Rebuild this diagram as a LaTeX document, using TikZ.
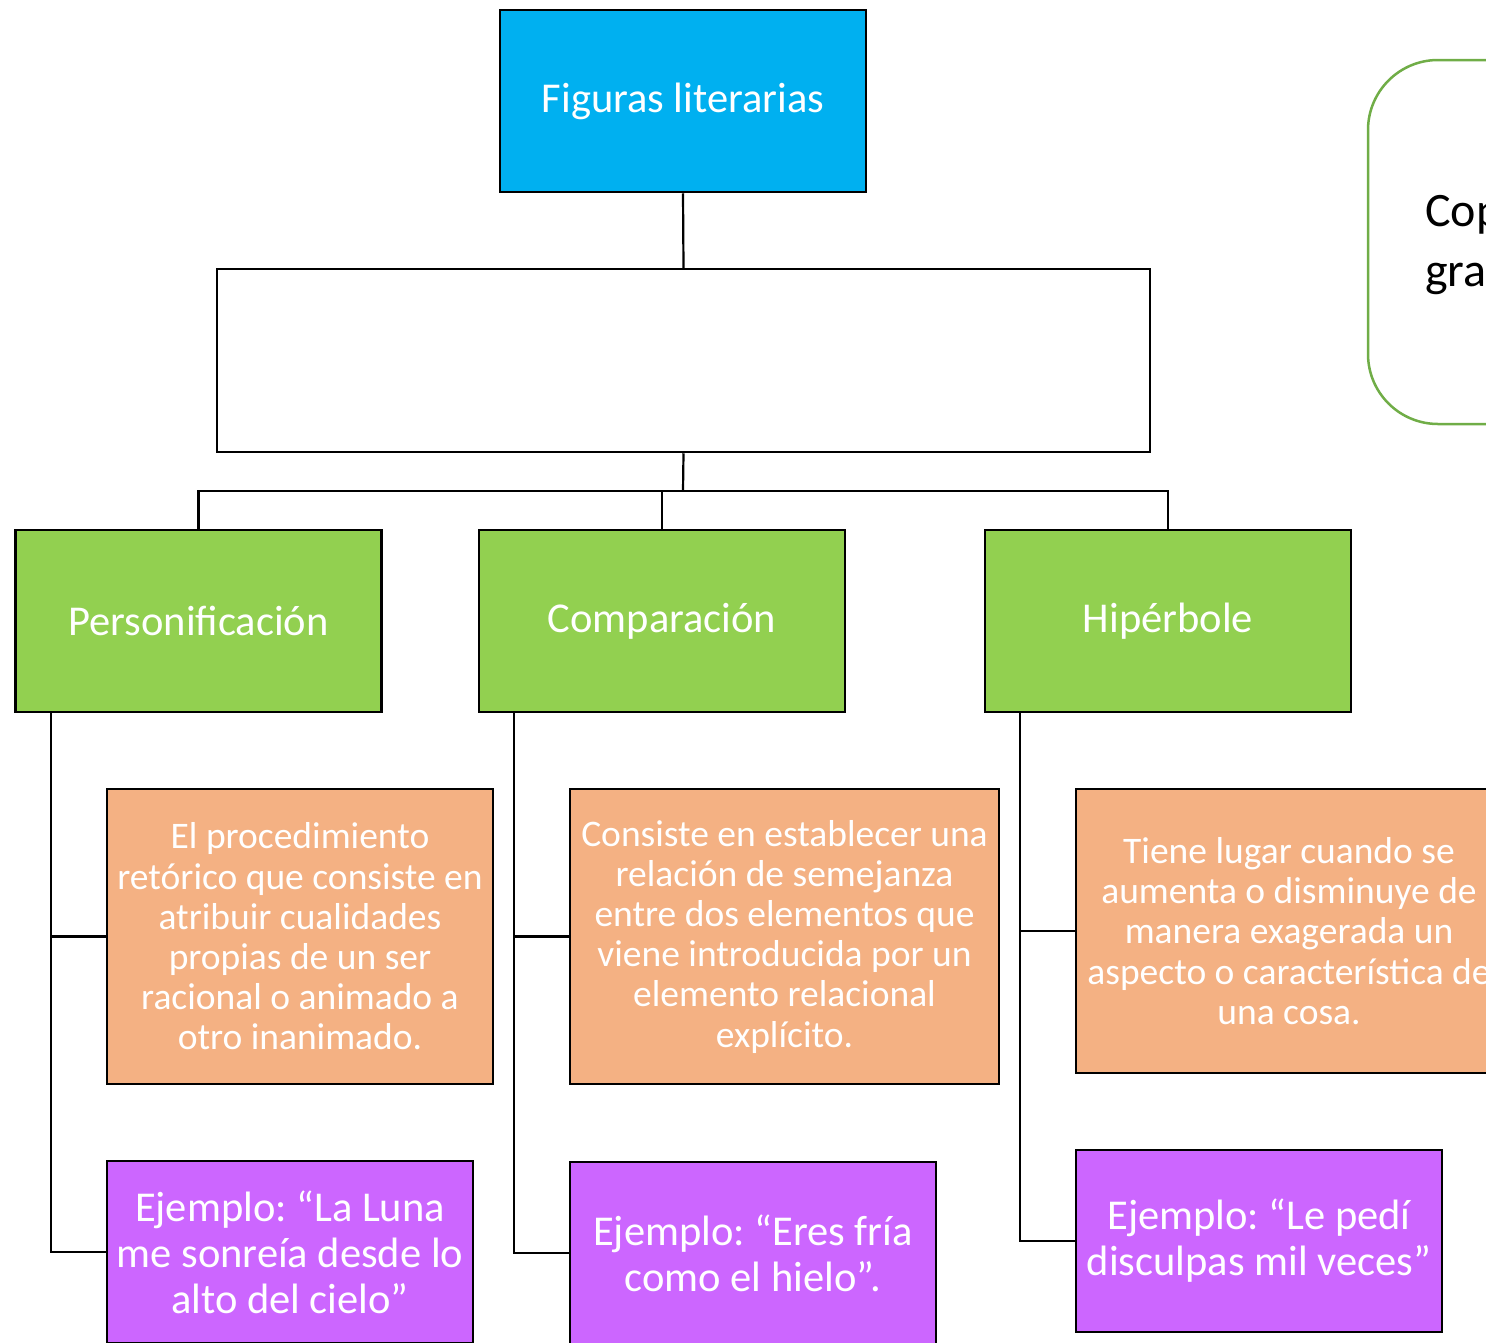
\documentclass[tikz,border=0pt]{standalone}
\usepackage{fontspec}
\setmainfont{Carlito}
\usepackage{tikz}
\frenchspacing

\definecolor{titlecyan}{HTML}{00B0F0}
\definecolor{leafgreen}{HTML}{92D050}
\definecolor{notegreen}{HTML}{70AD47}
\definecolor{defpeach}{HTML}{F4B183}
\definecolor{examplepurple}{HTML}{CC66FF}

\begin{document}
\begin{tikzpicture}[x=1pt,y=-1pt,
    box/.style={draw=black,line width=2.5pt,align=center,inner sep=0pt,text=white},
    titlebox/.style={box,fill=titlecyan,minimum width=366,minimum height=182,font=\fontsize{42.5}{48}\selectfont},
    blankbox/.style={box,fill=white,minimum width=933,minimum height=183},
    figbox/.style={box,fill=leafgreen,minimum width=366,minimum height=182,font=\fontsize{42.5}{48}\selectfont},
    defbox/.style={box,fill=defpeach,font=\fontsize{37.5}{40.2}\selectfont},
    exbox/.style={box,fill=examplepurple,minimum width=366,minimum height=182,font=\fontsize{42.5}{46}\selectfont},
    link/.style={draw=black,line width=2.2pt}]

    \useasboundingbox (0,0) rectangle (1486,1342);
    \clip (0,0) rectangle (1486,1342);

    % the side note, cut by the page edge
    \node[draw=notegreen,line width=2.5pt,fill=white,rounded corners=70pt,
      minimum width=232,minimum height=364] (note) at (1484,242) {};
    \node[anchor=west,align=left,inner sep=0pt,font=\fontsize{48}{60}\selectfont]
      (notetext) at (1425,245) {Cop\\gra};

    % top of the tree
    \node[titlebox] (title) at (683,101) {Figuras literarias};
    \node[blankbox] (blank) at (683.5,360.5) {};
    \coordinate (bus) at (683,491);

    % the three figures
    \node[figbox] (pers) at (198.5,621) {Personificación};
    \node[figbox] (comp) at (662,621) {Comparación};
    \node[figbox] (hip) at (1168,621) {Hipérbole};

    % definitions
    \node[defbox,minimum width=386,minimum height=295] (persdef) at (300,936.5)
      {El procedimiento\\retórico que consiste en\\atribuir cualidades\\propias de un ser\\racional o animado a\\otro inanimado.};
    \node[defbox,minimum width=429,minimum height=295] (compdef) at (784.5,936.5)
      {Consiste en establecer una\\relación de semejanza\\entre dos elementos que\\viene introducida por un\\elemento relacional\\explícito.};
    \node[defbox,minimum width=426,minimum height=284] (hipdef) at (1289,931)
      {Tiene lugar cuando se\\aumenta o disminuye de\\manera exagerada un\\aspecto o característica de\\una cosa.};

    % examples
    \node[exbox] (persej) at (290,1252) {Ejemplo: “La Luna\\me sonreía desde lo\\alto del cielo”};
    \node[exbox] (compej) at (753,1253) {Ejemplo: “Eres fría\\como el hielo”.};
    \node[exbox] (hipej) at (1259,1241) {Ejemplo: “Le pedí\\disculpas mil veces”};

    % connectors
    \draw[link] (title.south) -- (blank.north);
    \draw[link] (blank.south) -- (bus);
    \draw[link] (pers.north) |- (bus);
    \draw[link] (comp.north) |- (bus);
    \draw[link] (hip.north) |- (bus);

    \coordinate (persspine) at ([xshift=37pt]pers.south west);
    \coordinate (compspine) at ([xshift=36pt]comp.south west);
    \coordinate (hipspine) at ([xshift=36pt]hip.south west);
    \draw[link] (persspine) |- (persdef.west);
    \draw[link] (persspine) |- (persej.west);
    \draw[link] (compspine) |- (compdef.west);
    \draw[link] (compspine) |- (compej.west);
    \draw[link] (hipspine) |- (hipdef.west);
    \draw[link] (hipspine) |- (hipej.west);
\end{tikzpicture}
\end{document}
